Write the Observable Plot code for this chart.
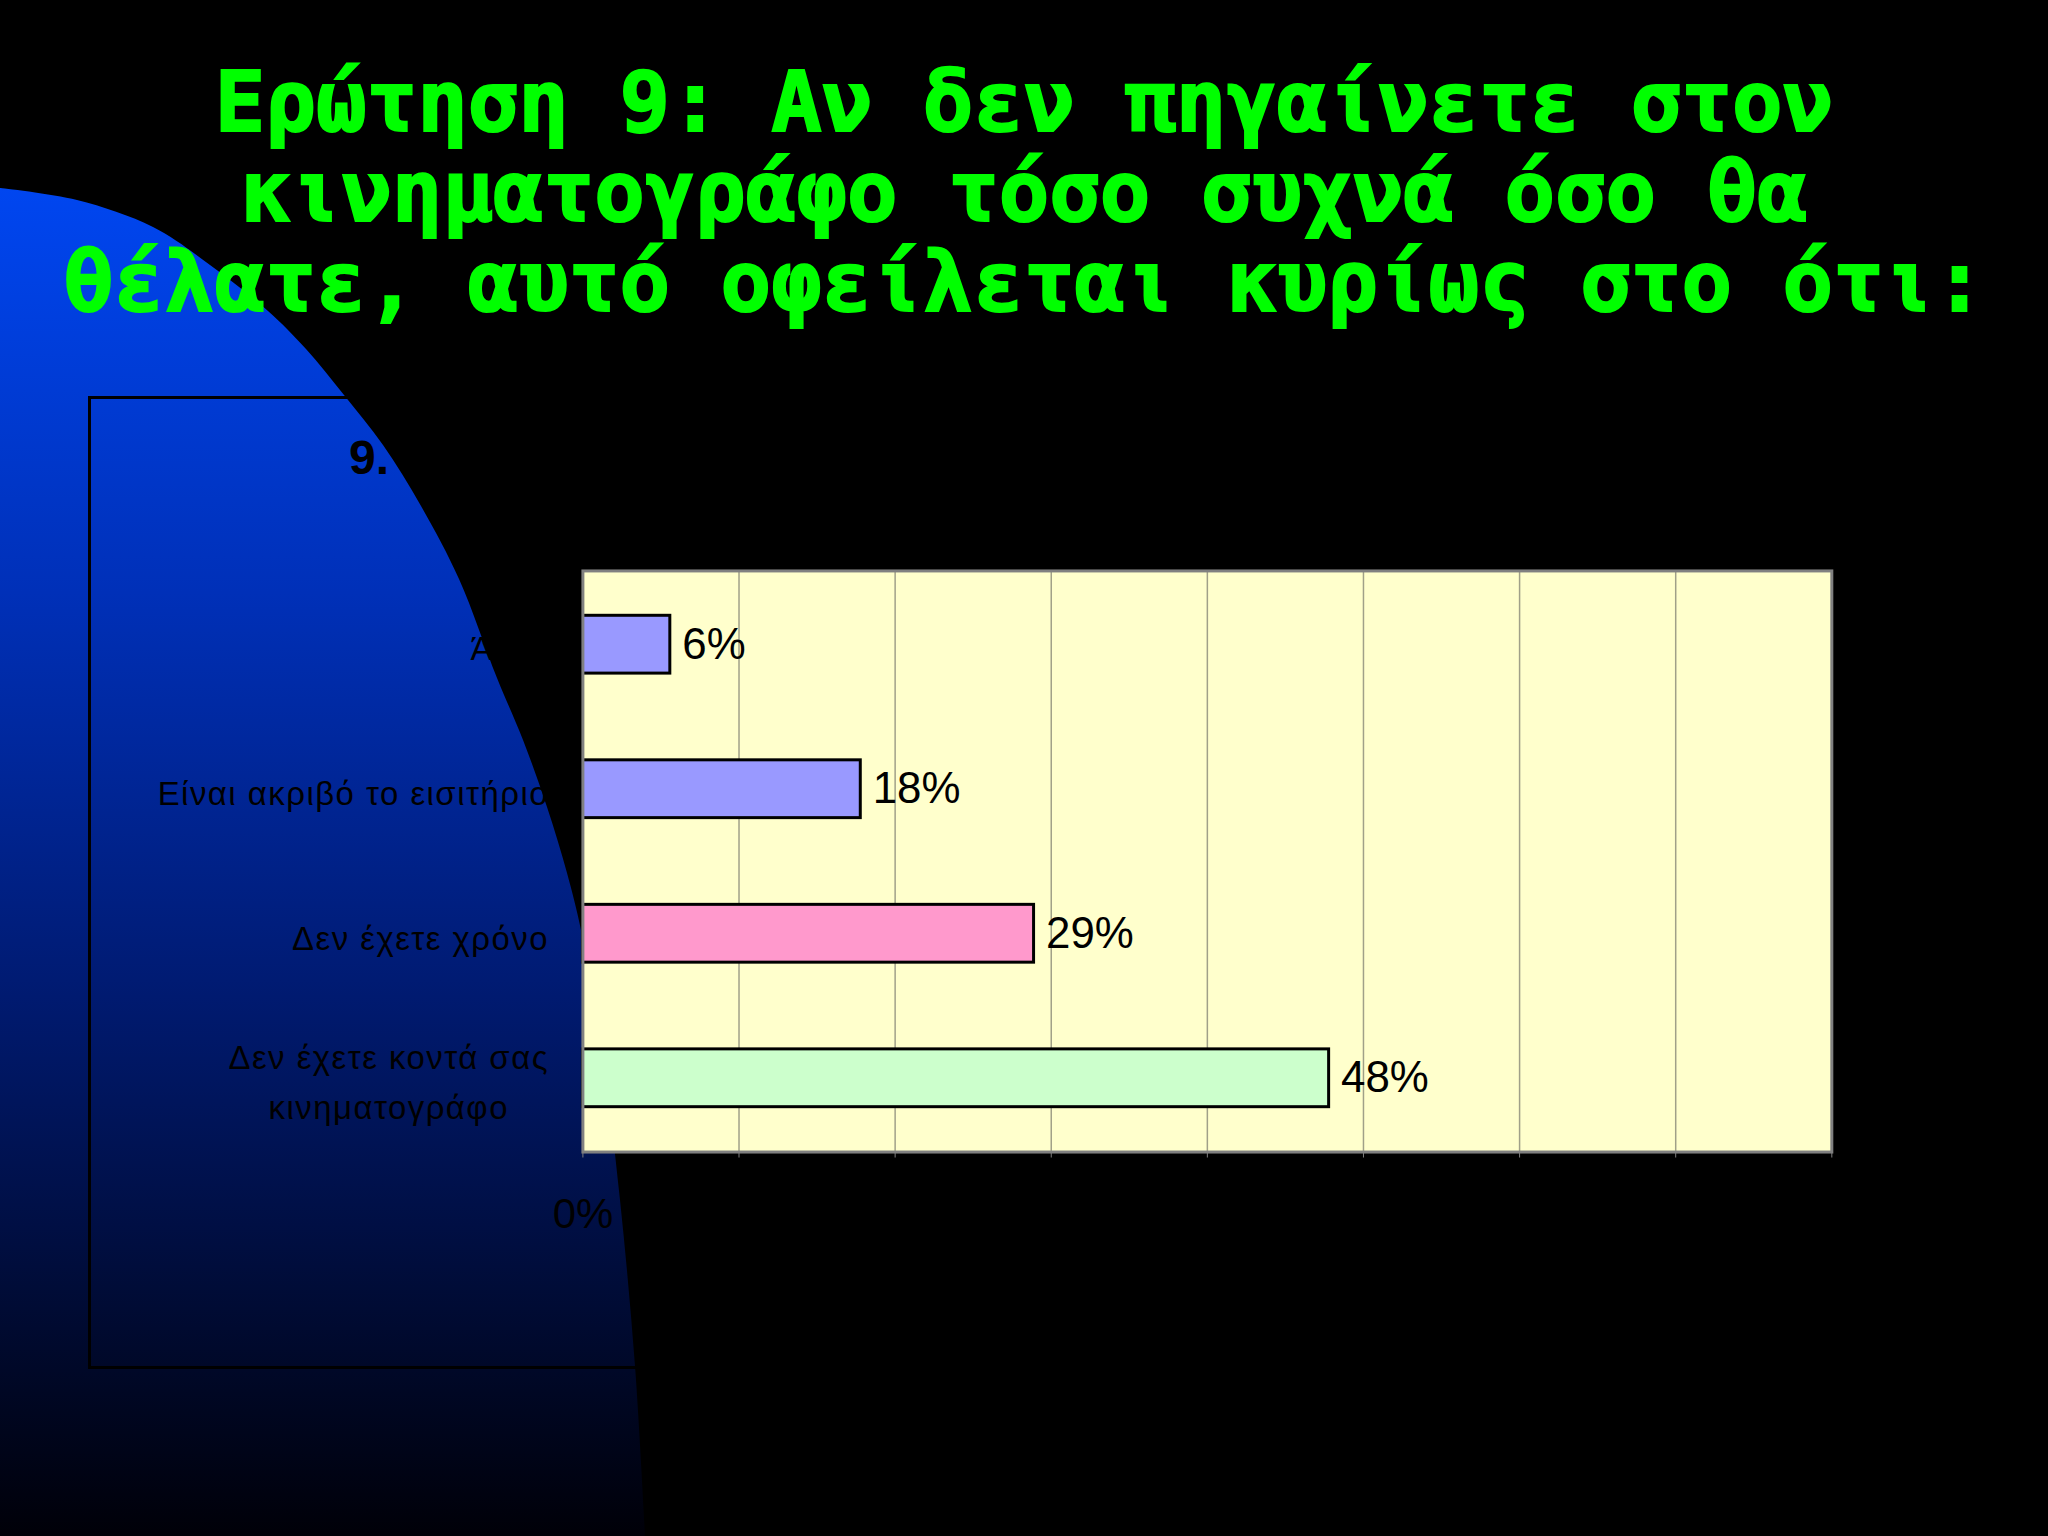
<!DOCTYPE html>
<html>
<head>
<meta charset="utf-8">
<script src="https://cdn.jsdelivr.net/npm/d3@7"></script>
<script src="https://cdn.jsdelivr.net/npm/@observablehq/plot@0.6"></script>
<style>
  html, body { margin: 0; padding: 0; background: #000; }
  #page { position: relative; width: 2048px; height: 1536px; overflow: hidden; background: #000; }
  #deco { position: absolute; left: 0; top: 0; }
  #title { position: absolute; left: 0; top: 57px; width: 2048px; text-align: center;
    font-family: "DejaVu Sans Mono", monospace; font-weight: bold; font-size: 84px; line-height: 90px;
    color: #00ff00; -webkit-text-stroke: 2px #00ff00; white-space: pre; }
  #chartbox { position: absolute; left: 88px; top: 396px; }
  #charttitle { position: absolute; left: 349px; top: 430px; font-family: "Liberation Sans", Arial, sans-serif;
    font-weight: bold; font-size: 48px; color: #000; }
</style>
</head>
<body>
<div id="page">
  <svg id="deco" width="2048" height="1536"></svg>
  <div id="title"></div>
  <div id="chartbox"></div>
  <div id="charttitle"></div>
</div>
<script>
// ---- data ----
const titleLines = [
  "Ερώτηση 9: Αν δεν πηγαίνετε στον",
  "κινηματογράφο τόσο συχνά όσο θα",
  "θέλατε, αυτό οφείλεται κυρίως στο ότι:"
];
const chartTitle = "9.";
const categories = [
  "Άλλο",
  "Είναι ακριβό το εισιτήριο",
  "Δεν έχετε χρόνο",
  "Δεν έχετε κοντά σας\nκινηματογράφο"
];
const values = [5.6, 17.8, 28.9, 47.8];
const xTicks = [0, 10, 20, 30, 40, 50, 60, 70, 80];
const barColors = ["#9999ff", "#9999ff", "#ff99cc", "#ccffcc"];

// ---- decoration: blue curved backdrop of the slide ----
const edge = [[0,188],[77,200],[153,227],[210,265],[268,311],[306,349],[344,395],[383,445],[421,506],
  [459,579],[497,678],[523,740],[547,807],[567,873],[581,930],[602,1050],[620,1200],[635,1366],[645,1536]];
const deco = d3.select("#deco");
const grad = deco.append("defs").append("linearGradient")
  .attr("id", "bg").attr("x1", 0).attr("y1", 0).attr("x2", 0).attr("y2", 1);
[[0, "#0046f0"], [0.3, "#0030b8"], [0.6, "#001a70"], [1, "#000008"]].forEach(([o, c]) =>
  grad.append("stop").attr("offset", o).attr("stop-color", c));
const edgePath = d3.line().curve(d3.curveCatmullRom.alpha(0.5))(edge);
deco.append("path")
  .attr("d", edgePath + " L0,1536 Z")
  .attr("fill", "url(#bg)");

// ---- title ----
document.getElementById("title").textContent = titleLines.join("\n");
document.getElementById("charttitle").textContent = chartTitle;

// ---- chart ----
const rows = categories.map((c, i) => ({category: c, value: values[i]}));

const chart = Plot.plot({
  width: 1844,
  height: 970,
  marginLeft: 493,
  marginRight: 98,
  marginTop: 172,
  marginBottom: 215,
  style: {background: "transparent", color: "#000", fontFamily: "Liberation Sans, Arial, sans-serif", overflow: "visible"},
  x: {domain: [0, 80], ticks: xTicks, tickFormat: d => d + "%"},
  y: {domain: categories, paddingInner: 0.6, paddingOuter: 0.3},
  color: {domain: categories, range: barColors},
  marks: [
    Plot.frame({fill: "#ffffcc"}),
    Plot.gridX(xTicks, {stroke: "#a0a088", strokeOpacity: 1, strokeWidth: 1.5}),
    Plot.barX(rows, {x: "value", y: "category", fill: "category", stroke: "#000", strokeWidth: 3}),
    Plot.text(rows, {x: "value", y: "category", text: d => Math.round(d.value) + "%", dx: 12, textAnchor: "start",
      fontSize: 44, fill: "#000"}),
    Plot.axisY({tickSize: 0, tickPadding: 34, fontSize: 33, fill: "#000", lineHeight: 1.5, label: null,
      className: "ycats"}),
    Plot.axisX({ticks: xTicks, tickFormat: d => d + "%", tickSize: 6, stroke: "#808080", tickPadding: 40,
      fontSize: 42, fill: "#000", label: null}),
    Plot.frame({stroke: "#808080", strokeWidth: 3})
  ]
});
chart.style.border = "3px solid #000";
chart.style.boxSizing = "border-box";
document.getElementById("chartbox").appendChild(chart);

// category labels: letter spacing, and centre the lines of multi-line labels on their longest line
d3.select(chart).selectAll(".ycats text").each(function() {
  this.style.letterSpacing = "1.5px";
  const spans = this.querySelectorAll("tspan");
  if (spans.length > 1) {
    const w = Math.max(...Array.from(spans, s => s.getComputedTextLength()));
    this.setAttribute("text-anchor", "middle");
    spans.forEach(s => s.setAttribute("x", -w / 2));
  }
});
</script>
</body>
</html>
